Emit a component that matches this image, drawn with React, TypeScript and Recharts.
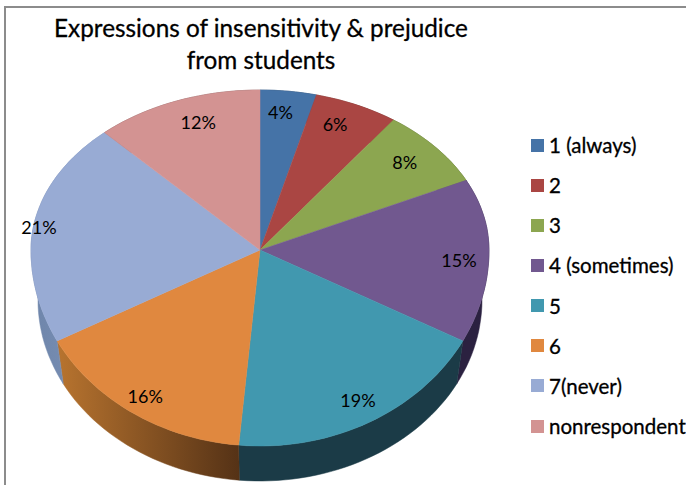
import React from 'react';
import { PieChart, Pie, Cell, Legend } from 'recharts';

const categories = ['1 (always)', '2', '3', '4 (sometimes)', '5', '6', '7(never)', 'nonrespondent'];
const percents = [4, 6, 8, 15, 19, 16, 21, 12];
const topColors = ['#4573A7', '#AA4643', '#8CA650', '#71588F', '#4198AF', '#E0883F', '#98ABD4', '#D39392'];
const wallColors = ['#2A4564', '#662A28', '#54642F', '#2B2140', '#1B3B47', 'url(#wallOrange)', 'url(#wallBlue)', '#7E5857'];
// small shifts that keep each percentage clear of the slice edges
const labelNudges = [[-4, -1], [-8, -1], [-6, 1], [2, 7], [4, 2], [-5, 6], [-27, 0], [10, 0]];

const rows = categories.map((name, i) => ({ name, value: percents[i] }));

// the disc is tilted, so the near half is stretched more than the far half
const FAR_SQUASH = 160 / 229;
const NEAR_SQUASH = 196 / 229;
// lower rim of the side wall
const RIM_RX = 222 / 229;
const RIM_RY = 181 / 229;
const RIM_DROP = 50;
const FONT = 'Lato, sans-serif';

const rad = (deg: number) => (deg * Math.PI) / 180;

const onDisc = (cx: number, cy: number, r: number, deg: number): [number, number] => {
  const s = Math.sin(rad(deg));
  return [cx + r * Math.cos(rad(deg)), cy - r * s * (s > 0 ? FAR_SQUASH : NEAR_SQUASH)];
};

const onRim = (cx: number, cy: number, r: number, deg: number): [number, number] => [
  cx + r * RIM_RX * Math.cos(rad(deg)),
  cy + RIM_DROP - r * RIM_RY * Math.sin(rad(deg)),
];

const sweep = (from: number, to: number) => {
  const steps = Math.max(2, Math.ceil(Math.abs(to - from) / 2));
  return Array.from({ length: steps + 1 }, (_, i) => from + ((to - from) * i) / steps);
};

const toPath = (pts: [number, number][]) =>
  'M' + pts.map(([x, y]) => `${x.toFixed(1)},${y.toFixed(1)}`).join('L') + 'Z';

const TopSlice = (props: any) => {
  const { cx, cy, outerRadius, startAngle, endAngle, fill } = props;
  const arc = sweep(startAngle, endAngle).map((a) => onDisc(cx, cy, outerRadius, a));
  return <path d={toPath([[cx, cy], ...arc])} fill={fill} stroke={fill} strokeWidth={0.5} />;
};

const WallSlice = (props: any) => {
  const { cx, cy, outerRadius, startAngle, endAngle, fill } = props;
  const angles = sweep(startAngle, endAngle);
  const upper = angles.map((a) => onDisc(cx, cy, outerRadius, a));
  const lower = [...angles].reverse().map((a) => onRim(cx, cy, outerRadius, a));
  return <path d={toPath([...upper, ...lower])} fill={fill} stroke={fill} strokeWidth={0.5} />;
};

const percentLabel = (props: any) => {
  const { cx, cy, outerRadius, midAngle, value, index } = props;
  const [x, y] = onDisc(cx, cy, outerRadius * 0.86, midAngle);
  const [dx, dy] = labelNudges[index];
  return (
    <text key={index} x={x + dx} y={y + dy} textAnchor="middle" dominantBaseline="central" fill="#000" fontSize={18} fontFamily={FONT}>
      {value}%
    </text>
  );
};

// the wall pie also reports entries, only the top faces get a legend row
const LegendList = ({ payload }: any) => (
  <div>
    {(payload || [])
      .filter((entry: any) => entry.type !== 'none')
      .map((entry: any) => (
        <div key={entry.value} style={{ display: 'flex', alignItems: 'center', height: 40.15, whiteSpace: 'nowrap' }}>
          <span style={{ width: 13, height: 13, background: entry.color, marginRight: 5, flex: 'none' }} />
          <span style={{ color: '#000', fontFamily: FONT, fontSize: 20.5, WebkitTextStroke: '0.3px #000' }}>{entry.value}</span>
        </div>
      ))}
  </div>
);

export default function App() {
  return (
    <div style={{ position: 'absolute', left: 0, top: 0, width: 686, height: 485, background: '#fff', overflow: 'hidden' }}>
      <div style={{ position: 'absolute', left: 4, top: 6, width: 690, height: 490, border: '2px solid #8c8c8c', boxSizing: 'border-box' }} />
      <div style={{ position: 'absolute', left: 5, width: 512, top: 12, textAlign: 'center', fontFamily: FONT, fontSize: 24.3, lineHeight: '32px', color: '#000', WebkitTextStroke: '0.3px #000' }}>
        Expressions of insensitivity &amp; prejudice
        <br />
        from students
      </div>
      <PieChart width={686} height={485} margin={{ top: 0, right: 0, bottom: 0, left: 0 }} style={{ position: 'absolute', left: 0, top: 0 }}>
        <defs>
          <linearGradient id="wallOrange" x1="0" y1="0" x2="1" y2="0">
            <stop offset="0%" stopColor="#B8742F" />
            <stop offset="100%" stopColor="#553216" />
          </linearGradient>
          <linearGradient id="wallBlue" x1="0" y1="0" x2="1" y2="0">
            <stop offset="0%" stopColor="#6E85AA" />
            <stop offset="100%" stopColor="#7F95BA" />
          </linearGradient>
        </defs>
        <Pie
          data={rows}
          dataKey="value"
          nameKey="name"
          cx={260}
          cy={250}
          outerRadius={229}
          startAngle={90}
          endAngle={-270}
          stroke="none"
          legendType="none"
          shape={WallSlice}
          isAnimationActive={false}
        >
          {rows.map((r, i) => (
            <Cell key={r.name} fill={wallColors[i]} />
          ))}
        </Pie>
        <Pie
          data={rows}
          dataKey="value"
          nameKey="name"
          cx={260}
          cy={250}
          outerRadius={229}
          startAngle={90}
          endAngle={-270}
          stroke="none"
          shape={TopSlice}
          label={percentLabel}
          labelLine={false}
          isAnimationActive={false}
        >
          {rows.map((r, i) => (
            <Cell key={r.name} fill={topColors[i]} />
          ))}
        </Pie>
        <Legend
          layout="vertical"
          align="right"
          verticalAlign="top"
          content={LegendList}
          wrapperStyle={{ position: 'absolute', left: 531, top: 125, width: 155 }}
        />
      </PieChart>
    </div>
  );
}
